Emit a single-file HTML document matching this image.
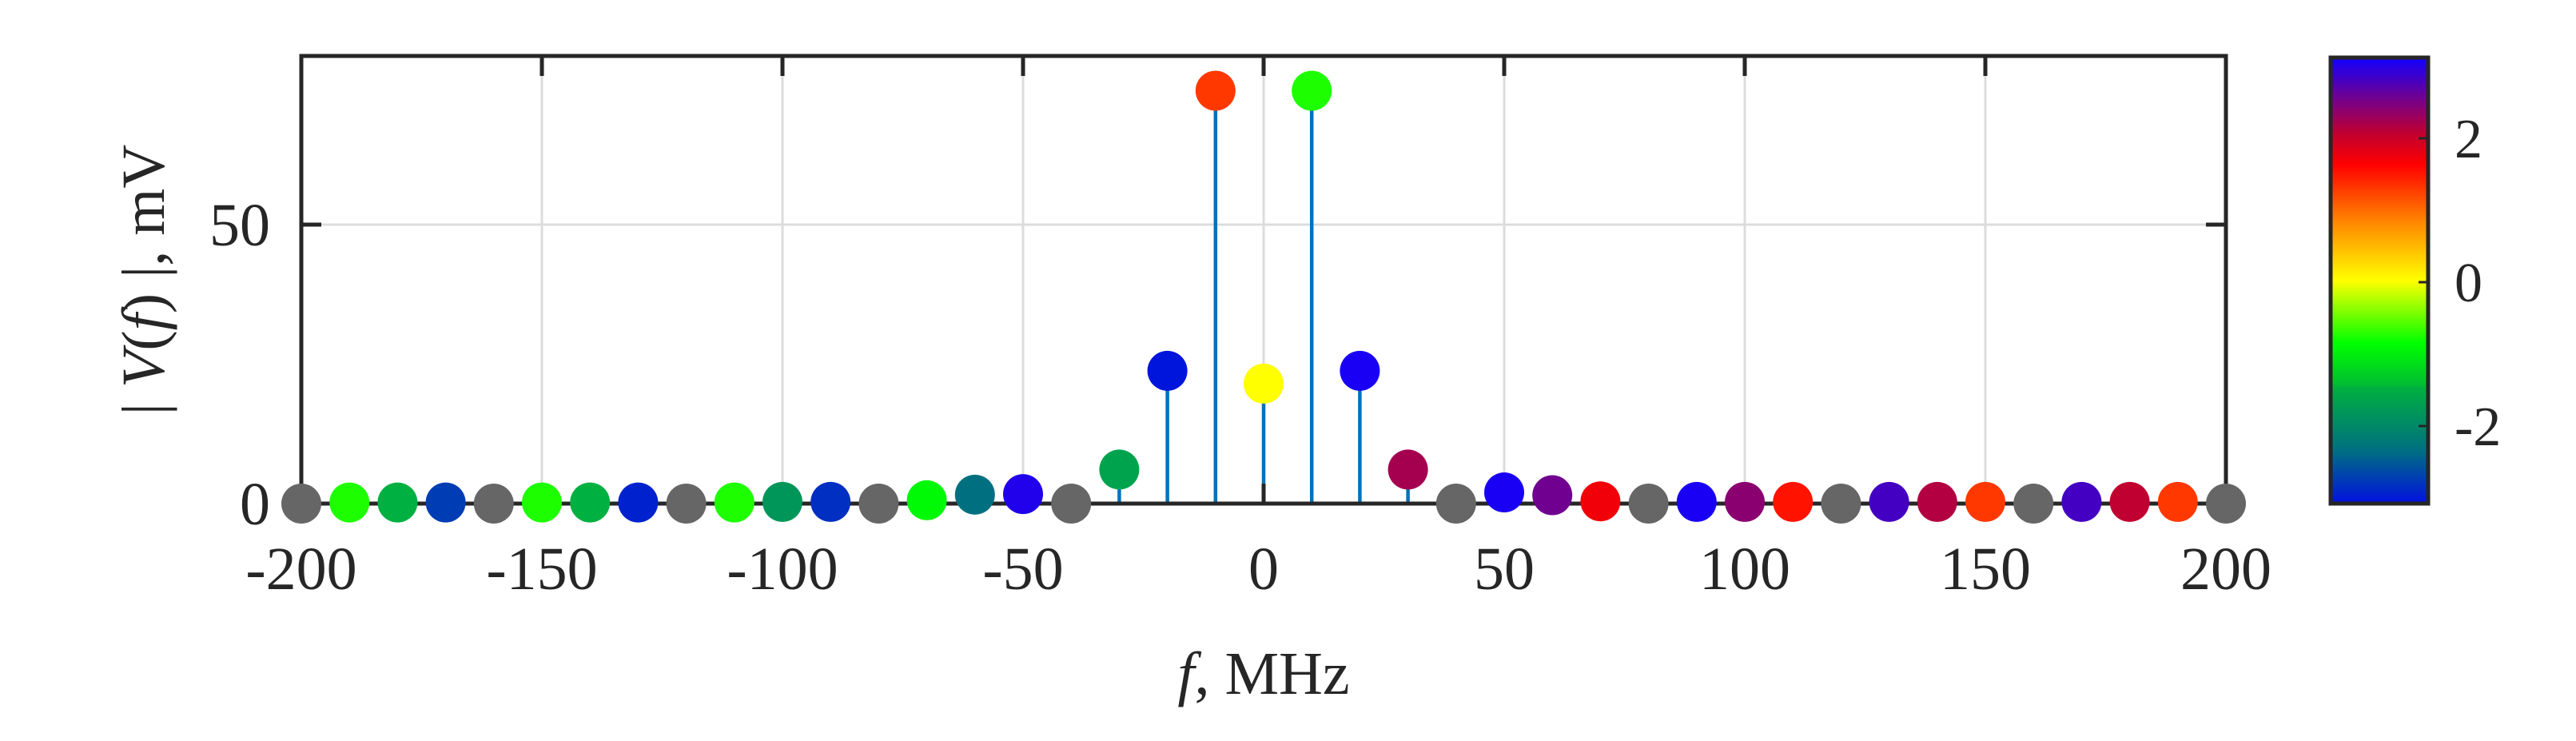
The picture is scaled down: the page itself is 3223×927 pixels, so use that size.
<!DOCTYPE html>
<html><head><meta charset="utf-8"><style>
html,body{margin:0;padding:0;background:#fff;}
svg{display:block;}
text{font-family:"Liberation Serif",serif;fill:#262626;}
</style></head><body>
<svg id="chart" width="3223" height="927" viewBox="0 0 3223 927" xmlns="http://www.w3.org/2000/svg">
<defs>
<linearGradient id="cmap" x1="0" y1="1" x2="0" y2="0">
<stop offset="0" stop-color="#0010e0"/>
<stop offset="0.12" stop-color="#007080"/>
<stop offset="0.26" stop-color="#00b040"/>
<stop offset="0.27" stop-color="#00c030"/>
<stop offset="0.36" stop-color="#00ff00"/>
<stop offset="0.5" stop-color="#ffff00"/>
<stop offset="0.63" stop-color="#ff8800"/>
<stop offset="0.76" stop-color="#ff0000"/>
<stop offset="0.83" stop-color="#c00030"/>
<stop offset="0.91" stop-color="#700090"/>
<stop offset="1" stop-color="#1000ff"/>
</linearGradient>
</defs>
<g id="grid"></g>
<g id="stems"></g>
<g id="axes"></g>
<g id="markers"></g>
<g id="labels"></g>
<text x="1581" y="868" font-size="76" text-anchor="middle"><tspan font-style="italic">f</tspan>, MHz</text>
<text transform="translate(205,350) rotate(-90)" font-size="76" text-anchor="middle">| <tspan font-style="italic">V</tspan>(<tspan font-style="italic">f</tspan>) |, mV</text>
<rect x="2916" y="72" width="122" height="558" fill="url(#cmap)" stroke="#262626" stroke-width="5"/>
<g id="cbticks"></g>
</svg>
<script>
const freqs = [-200,-190,-180,-170,-160,-150,-140,-130,-120,-110,-100,-90,-80,-70,-60,-50,-40,-30,-20,-10,0,10,20,30,40,50,60,70,80,90,100,110,120,130,140,150,160,170,180,190,200];
const magnitudes = [0,0.2,0.2,0.2,0,0.2,0.2,0.2,0,0.2,0.3,0.3,0,0.6,1.6,1.7,0,6.1,23.8,74,21.5,74,23.8,6.1,0,2,1.5,0.4,0,0.3,0.3,0.3,0,0.3,0.3,0.3,0,0.3,0.3,0.3,0];
const phases = [null,-1.3,-1.9,-2.8,null,-1.3,-1.9,-3.0,null,-1.3,-2.1,-2.9,null,-1.5,-2.4,3.05,null,-2.0,-3.1,1.2,0,-1.3,3.1,2.2,null,3.1,2.6,1.6,null,3.1,2.4,1.4,null,2.85,2.1,1.2,null,2.85,2.0,1.2,null];
const xTicks = [-200,-150,-100,-50,0,50,100,150,200];
const yTicks = [0,50];
const cbTicks = [-2,0,2];

const NS="http://www.w3.org/2000/svg";
const L=377,R=2785,T=70,B=630;
const xS=f=>L+(f+200)/400*(R-L);
const yS=v=>B-v*6.98;
const cbY=p=>353-p*90;
function mk(tag,attrs,parent){const e=document.createElementNS(NS,tag);for(const k in attrs)e.setAttribute(k,attrs[k]);parent.appendChild(e);return e;}
const stops=[[-3.14,[0,16,224]],[-2.4,[0,112,128]],[-1.9,[0,176,64]],[-1.47,[0,255,0]],[0,[255,255,0]],[0.77,[255,136,0]],[1.5,[255,0,0]],[2.0,[192,0,48]],[2.6,[112,0,144]],[3.15,[16,0,255]]];
function cmap(p){if(p===null)return "#666666";for(let i=0;i<stops.length-1;i++){const a=stops[i],b=stops[i+1];if(p<=b[0]){const t=Math.max(0,(p-a[0])/(b[0]-a[0]));const c=a[1].map((v,j)=>Math.round(v+(b[1][j]-v)*t));return `rgb(${c})`;}}return "rgb(16,0,255)";}

const grid=document.getElementById('grid'),stems=document.getElementById('stems'),axes=document.getElementById('axes'),markers=document.getElementById('markers'),labels=document.getElementById('labels'),cbt=document.getElementById('cbticks');
xTicks.forEach(t=>{
  const g=mk('line',{x1:xS(t),x2:xS(t),y1:T,y2:B,stroke:'#dcdcdc','stroke-width':3},grid);
  
  
  const lb=mk('text',{x:xS(t),y:737,'font-size':76,'text-anchor':'middle'},labels);
  lb.textContent=t;
  
  
  mk('line',{x1:xS(t),x2:xS(t),y1:T,y2:T+25,stroke:'#262626','stroke-width':5},axes);
  mk('line',{x1:xS(t),x2:xS(t),y1:B,y2:B-25,stroke:'#262626','stroke-width':5},axes);
});
yTicks.forEach(t=>{
  if(t>0){const g=mk('line',{x1:L,x2:R,y1:yS(t),y2:yS(t),stroke:'#dcdcdc','stroke-width':3},grid);
  
  }
  const lb=mk('text',{x:338,y:yS(t)+26,'font-size':76,'text-anchor':'end'},labels);
  lb.textContent=t;
  
  
  mk('line',{x1:L,x2:L+25,y1:yS(t),y2:yS(t),stroke:'#262626','stroke-width':5},axes);
  mk('line',{x1:R,x2:R-25,y1:yS(t),y2:yS(t),stroke:'#262626','stroke-width':5},axes);
});
mk('rect',{x:L,y:T,width:R-L,height:B-T,fill:'none',stroke:'#262626','stroke-width':5},axes);
freqs.forEach((f,i)=>{
  const s=mk('line',{x1:xS(f),x2:xS(f),y1:yS(0),y2:yS(magnitudes[i]),stroke:'#0072bd','stroke-width':4.5},stems);
  
  
  const c=mk('circle',{cx:xS(f),cy:yS(magnitudes[i]),r:25,fill:cmap(phases[i])},markers);
  
  
});
cbTicks.forEach(t=>{
  mk('line',{x1:3026,x2:3038,y1:cbY(t),y2:cbY(t),stroke:'#262626','stroke-width':3},cbt);
  const lb=mk('text',{x:3071,y:cbY(t)+24,'font-size':70},cbt);
  lb.textContent=t;
  
  
});
</script>
</body></html>
